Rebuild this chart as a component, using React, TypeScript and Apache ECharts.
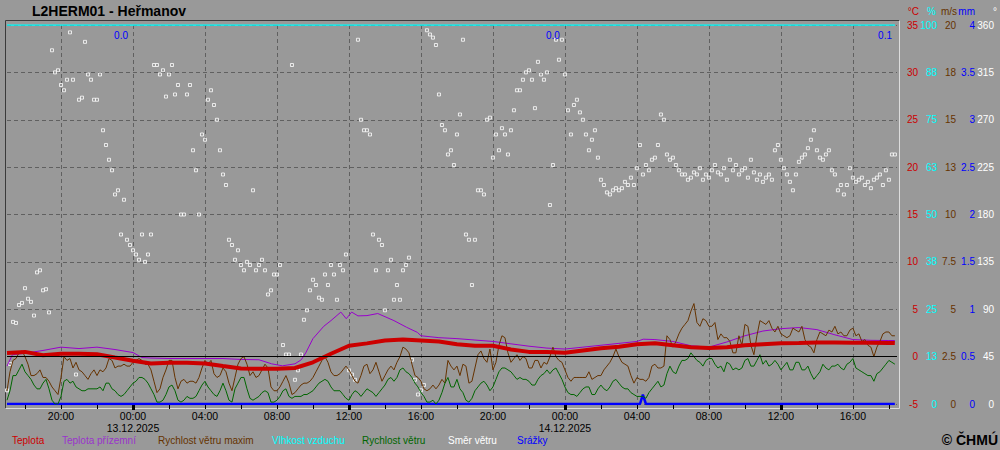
import React, { useEffect, useRef } from "react";
import * as echarts from "echarts";

// ---------- DATA ----------
// time unit: hours relative to 00:00 13.12.2025; 10-minute samples start at 17:00 12.12.2025
const START_HOUR = -7;
const STEP_HOURS = 1 / 6;

// Teplota (°C), [hour, value]
const airTemp: number[][] = [
  [-7, 0.37], [-6, 0.5], [-5, 0.15], [-4, 0.3], [-3, 0.3], [-2, 0.25], [-1, -0.1], [0, -0.44],
  [1, -0.72], [2, -0.65], [3, -0.65], [4, -0.72], [5, -1.0], [6, -1.25], [7, -1.29], [8, -1.29],
  [9, -1.2], [10, -0.6], [11, 0.3], [12, 1.15], [13, 1.4], [14, 1.7], [15, 1.8], [16, 1.7],
  [17, 1.6], [18, 1.3], [19, 1.15], [20, 1.15], [21, 0.75], [22, 0.5], [23, 0.5], [24, 0.4],
  [25, 0.65], [26, 0.88], [27, 1.05], [28, 1.3], [29, 1.4], [30, 1.2], [31, 1.0], [32, 0.9],
  [33, 1.0], [34, 1.2], [35, 1.3], [36, 1.4], [37, 1.43], [38, 1.48], [39, 1.5], [40, 1.47],
  [41, 1.47], [42, 1.45], [42.33, 1.43],
];

// Teplota přízemní (°C), [hour, value]
const groundTemp: number[][] = [
  [-7, -1.0], [-6.7, 0.2], [-6, 0.35], [-5, 0.65], [-4, 1.0], [-3, 0.85], [-2, 1.0], [-1, 0.75],
  [0, 0.43], [0.5, -0.1], [1, -0.15], [2, -0.2], [3, -0.2], [4, -0.2], [5, -0.2], [6, -0.3],
  [7, -0.33], [7.7, -0.76], [8.3, -0.97], [9, -0.76], [9.35, -0.33], [9.6, 0.4], [10, 1.9],
  [10.6, 3.2], [11, 3.8], [11.55, 4.7], [11.85, 4.0], [12.15, 4.7], [12.5, 4.3], [13, 4.33],
  [13.6, 4.55], [14.5, 3.8], [15.2, 3.1], [15.8, 2.56], [16, 2.2], [17, 2.0], [18, 1.9],
  [19, 1.75], [20, 1.6], [21, 1.35], [22, 1.1], [23, 0.9], [24, 0.8], [25, 1.0], [26, 1.2],
  [27, 1.4], [28, 1.6], [28.35, 1.84], [29, 1.8], [30, 1.6], [31, 1.15], [32, 1.0], [33, 1.55],
  [34, 2.2], [35, 2.7], [36, 2.95], [37, 3.07], [38, 2.85], [39, 2.3], [40, 1.8], [41, 1.72],
  [42, 1.7], [42.33, 1.7],
];

// Rychlost větru maxim (m/s), 10-min samples
const windGust: number[] = [
  0.7, 1.7, 2.3, 2.4, 2.7, 2.8, 2.5, 2.1, 1.5, 1.5, 1.6, 1.8, 1.4, 1.4, 1.2, 0.9, 0.7, 0.5, 1.4, 2.5,
  2.3, 2.4, 1.9, 2.2, 1.8, 1.7, 1.5, 1.3, 1.6, 1.8, 1.5, 1.8, 1.7, 1.9, 2.4, 2.3, 1.9, 2.0, 2.0, 2.1,
  2.0, 2.0, 2.2, 2.3, 2.4, 2.3, 2.1, 2.1, 1.8, 1.2, 0.6, 0.8, 1.4, 1.8, 2.3, 2.3, 1.4, 0.8, 1.2, 1.3,
  1.1, 1.2, 1.2, 1.1, 1.4, 1.9, 2.3, 2.1, 2.3, 1.6, 1.4, 1.5, 1.9, 1.7, 1.1,
  0.7, 1.4, 2.1, 2.4, 2.5, 2.1, 1.5, 1.7, 1.4, 1.5, 1.8, 2.1, 1.9, 0.9, 0.7, 0.7, 0.9, 1.2, 1.5, 1.1,
  0.5, 0.6, 0.8, 1.0, 1.1, 1.1, 1.2, 1.4, 1.7, 2.0, 2.3, 2.5, 2.2, 1.7, 1.5, 1.5, 1.6, 1.8, 2.0, 1.8,
  1.5, 1.2, 1.1, 1.5, 2.0, 2.1, 1.6, 1.8, 2.2, 1.7, 1.2, 1.5, 1.8, 2.0, 1.8, 2.2, 2.5, 3.0, 2.9, 2.7,
  2.1, 1.5, 1.4, 1.2, 0.8, 0.7, 0.8, 1.0, 0.8, 1.0, 1.3, 1.1, 2.3,
  2.0, 1.8, 2.0, 1.5, 2.1, 2.0, 1.1, 1.2, 1.9, 2.6, 2.8, 2.4, 2.2, 2.9, 1.8, 2.2, 3.1, 3.6, 3.5, 2.7,
  2.2, 2.4, 2.6, 2.3, 2.5, 2.4, 1.9, 1.9, 2.3, 2.3, 1.9, 2.2, 2.1, 2.5, 3.0, 2.5, 2.3, 2.2, 1.8, 1.4,
  1.2, 1.4, 1.4, 1.4, 1.4, 1.4, 1.7, 1.3, 1.4, 1.5, 1.5, 1.8, 2.0, 2.2, 2.5, 2.9, 2.5, 2.2, 2.1, 2.0,
  1.5, 1.1, 1.4, 1.3, 1.3, 1.2, 1.4, 2.0, 2.1, 1.9, 1.9, 2.0, 3.6, 3.4, 3.0,
  3.3, 3.7, 4.0, 4.2, 4.4, 4.9, 5.3, 4.3, 4.1, 4.5, 4.4, 4.1, 4.1, 4.3, 3.4, 3.7, 3.5, 3.5, 3.3, 2.7,
  2.7, 3.6, 3.1, 4.2, 4.1, 3.1, 2.6, 3.6, 4.4, 4.3, 4.2, 4.4, 4.0, 3.8, 4.1, 3.7, 3.6, 3.5, 3.6, 4.0,
  3.9, 3.8, 4.1, 3.4, 3.1, 3.0, 2.7, 3.4, 3.8, 3.7, 3.6, 3.9, 3.8, 4.1, 3.7, 3.8, 3.6, 3.6, 3.9, 4.0,
  3.6, 3.7, 3.3, 3.4, 3.1, 3.0, 2.5, 3.0, 3.3, 3.7, 3.8, 3.8, 3.6, 3.6,
];

// Rychlost větru (m/s), 10-min samples
const windSpeed: number[] = [
  0.2, 0.7, 1.5, 1.5, 1.8, 2.1, 1.7, 1.5, 1.3, 1.0, 0.8, 0.8, 1.1, 1.3, 0.8, 0.2, 0.0, 0.0, 0.4, 1.2,
  1.3, 1.1, 1.2, 0.9, 0.8, 0.7, 0.7, 0.8, 0.8, 0.8, 0.8, 0.9, 0.7, 1.1, 1.1, 0.8, 0.7, 0.5, 0.4, 0.5,
  0.7, 0.9, 1.1, 1.2, 1.4, 1.4, 1.3, 1.1, 0.8, 0.5, 0.1, 0.1, 0.2, 0.5, 0.9, 1.0, 0.7, 0.2, 0.1, 0.2,
  0.4, 0.3, 0.3, 0.4, 0.7, 1.0, 1.2, 0.9, 0.7, 0.5, 0.4, 0.7, 1.1, 0.7, 0.2,
  0.1, 0.8, 1.1, 1.4, 1.4, 0.8, 0.3, 0.2, 0.3, 0.4, 0.6, 0.7, 0.6, 0.1, 0.1, 0.2, 0.4, 0.7, 0.8, 0.4,
  0.3, 0.4, 0.4, 0.4, 0.5, 0.5, 0.6, 0.7, 0.9, 1.1, 1.2, 1.3, 1.2, 0.9, 0.7, 0.7, 0.7, 0.5, 0.3, 0.2,
  0.5, 0.7, 0.6, 0.4, 0.6, 0.8, 0.7, 0.6, 0.4, 0.6, 0.8, 1.0, 1.3, 1.4, 1.2, 1.4, 1.8, 1.9, 1.7, 1.6,
  1.4, 1.1, 0.9, 0.6, 0.4, 0.1, 0.1, 0.2, 0.0, 0.2, 0.6, 1.1, 1.4,
  0.9, 0.9, 1.3, 0.8, 0.6, 0.2, 0.1, 0.3, 0.7, 0.9, 1.1, 1.2, 1.0, 0.7, 0.9, 1.3, 1.7, 1.9, 1.9, 1.8,
  1.7, 1.5, 1.3, 1.4, 1.3, 1.3, 1.2, 1.0, 1.0, 1.3, 1.5, 1.6, 1.8, 1.6, 1.8, 1.9, 1.6, 1.3, 0.9, 0.6,
  0.5, 0.5, 0.4, 0.6, 0.8, 0.9, 0.9, 0.5, 0.5, 0.8, 1.0, 0.8, 0.7, 0.9, 1.2, 1.3, 1.1, 0.9, 0.8, 0.8,
  0.6, 0.5, 0.4, 0.4, 0.4, 0.3, 0.6, 0.8, 1.0, 1.2, 0.9, 1.0, 1.6, 2.0, 1.7,
  1.6, 2.0, 2.3, 2.3, 2.4, 2.7, 2.5, 2.3, 2.2, 2.0, 2.3, 2.4, 2.4, 2.1, 1.9, 2.0, 1.7, 2.2, 2.1, 1.8,
  1.9, 1.8, 1.9, 2.3, 2.4, 2.0, 2.0, 2.3, 2.6, 2.1, 2.3, 2.0, 2.1, 2.3, 2.1, 1.8, 2.0, 2.2, 1.8, 1.8,
  2.2, 2.2, 1.8, 1.8, 2.0, 1.6, 1.3, 1.5, 1.7, 2.1, 1.9, 1.8, 2.0, 2.0, 2.1, 1.9, 1.8, 2.1, 2.2, 2.4,
  1.9, 1.8, 1.7, 1.6, 1.5, 1.5, 1.2, 1.6, 1.7, 1.9, 2.1, 2.3, 2.2, 2.1,
];

// Směr větru (°), 10-min samples
const windDir: number[] = [
  13, 38, 78, 77, 94, 96, 110, 100, 97, 84,
  125, 127, 108, 109, 87, 336, 315, 317, 303, 298,
  308, 353, 308, 28, 289, 291, 344, 313, 308, 289,
  289, 313, 260, 246, 232, 222, 199, 203, 161, 194,
  156, 151, 146, 142, 137, 161, 135, 142, 161, 322,
  322, 313, 317, 292, 313, 322, 294, 303, 180, 180,
  294, 303, 241, 222, 180, 256, 251, 289, 298, 284,
  270, 241, 218, 208, 156, 151, 137, 146, 132, 127,
  135, 132, 203, 127, 132, 137, 127, 104, 108, 123,
  123, 132, 56, 47, 47, 322, 23, 32, 47, 80,
  89, 108, 118, 113, 101, 99, 123, 113, 132, 123,
  99, 132, 127, 142, 32, 28, 23, 346, 270, 260,
  260, 256, 161, 127, 156, 151, 89, 127, 137, 99,
  113, 99, 127, 132, 139, 42, 23, 9, 13, 18,
  355, 351, 348, 341, 294, 265, 260, 237, 241, 227,
  256, 275, 346, 161, 156, 113, 156, 203, 203, 199,
  270, 272, 234, 256, 241, 262, 256, 237, 260, 279,
  298, 298, 308, 315, 317, 308, 281, 325, 313, 308,
  315, 189, 227, 346, 327, 346, 313, 279, 256, 284,
  289, 277, 270, 256, 241, 251, 260, 234, 213, 208,
  201, 199, 203, 205, 203, 205, 211, 208, 215, 208,
  224, 246, 218, 227, 222, 232, 234, 246, 275, 270,
  237, 232, 234, 227, 222, 218, 218, 213, 215, 220,
  218, 224, 213, 218, 215, 222, 227, 220, 218, 224,
  213, 232, 222, 227, 218, 222, 224, 215, 232, 220,
  213, 218, 211, 215, 218, 213, 241, 246, 232, 224,
  218, 211, 203, 218, 230, 234, 237, 243, 251, 260,
  241, 234, 232, 237, 241, 222, 218, 203, 208, 199,
  208, 224, 215, 211, 213, 215, 208, 211, 205, 213,
  215, 218, 208, 222, 213, 237, 237,
];

// Vlhkost vzduchu (%), [hour, value]
const humidity: number[][] = [[-7, 100], [42.33, 100]];

// Srážky (mm), [hour, value]
const precipitation: number[][] = [[-7, 0], [28.17, 0], [28.33, 0.1], [28.5, 0], [42.33, 0]];

// axis ticks
const tempTicks = { min: -5, max: 35, interval: 5 };
const humTicks = { min: 0, max: 100, interval: 12.5 };
const windTicks = { min: 0, max: 20, interval: 2.5 };
const precTicks = { min: 0, max: 4, interval: 0.5 };
const dirTicks = { min: 0, max: 360, interval: 45 };
const unitNames = ["°C", "%", "m/s", "mm", "°"];
const X_MIN = -7;
const X_MAX = 42.45;
const labelHours = [-4, 0, 4, 8, 12, 16, 20, 24, 28, 32, 36, 40];
const minorTickHours = [-6, -4, -2, 0, 2, 4, 6, 8, 10, 12, 14, 16, 18, 20, 22, 24, 26, 28, 30, 32, 34, 36, 38, 40, 42];
const majorTickHours = [0, 12, 24, 36];
const dayEnds = [0, 24, 48];

// ---------- CHART ----------
const FONT = "'Liberation Sans', Arial, Helvetica, sans-serif";
const C_RED = "#cc0000";
const C_PURPLE = "#9900cc";
const C_BROWN = "#663300";
const C_CYAN = "#00ffff";
const C_GREEN = "#006600";
const C_WHITE = "#ffffff";
const C_BLUE = "#0000ff";

function fmtTime(h: number): string {
  const hh = ((Math.round(h) % 24) + 24) % 24;
  const s = String(hh).padStart(2, "0") + ":00";
  if (hh === 0) {
    const d = new Date(Date.UTC(2025, 11, 13) + h * 3600e3);
    return s + "\n" + d.getUTCDate() + "." + (d.getUTCMonth() + 1) + "." + d.getUTCFullYear();
  }
  return s;
}

function rightAxis(
  ticks: { min: number; max: number; interval: number },
  color: string,
  offset: number,
  formatter: (v: number) => string
) {
  return {
    type: "value",
    position: "right",
    offset,
    min: ticks.min,
    max: ticks.max,
    interval: ticks.interval,
    axisLine: { show: false },
    axisTick: { show: false },
    splitLine: { show: false },
    axisLabel: { color, fontSize: 10, fontFamily: FONT, align: "right", margin: 0, formatter },
  };
}

export default function App() {
  const ref = useRef<HTMLDivElement>(null);

  useEffect(() => {
    if (!ref.current) return;
    const chart = echarts.init(ref.current, null, { renderer: "svg" });

    const t10 = (i: number) => +(START_HOUR + i * STEP_HOURS).toFixed(4);
    const gustData = windGust.map((v, i) => [t10(i), v]);
    const speedData = windSpeed.map((v, i) => [t10(i), v]);
    const dirData = windDir.map((v, i) => [t10(i), v]);

    const dayStarts = [-Infinity, 0, 24];
    const totals = dayEnds.map((end, k) =>
      precipitation.filter((p) => p[0] >= dayStarts[k] && p[0] < end).reduce((s, p) => s + p[1], 0)
    );

    const legendDefs: [string, string, number][] = [
      ["Teplota", C_RED, 12],
      ["Teplota přízemní", "#9933cc", 62],
      ["Rychlost větru maxim", C_BROWN, 158],
      ["Vlhkost vzduchu", C_CYAN, 272],
      ["Rychlost větru", C_GREEN, 362],
      ["Směr větru", C_WHITE, 447],
      ["Srážky", C_BLUE, 517],
    ];

    const unitColors = [C_RED, C_CYAN, C_BROWN, C_BLUE, C_WHITE];
    const unitRight = [919, 936, 957, 975, 997];

    const xBase = { type: "value", min: X_MIN, max: X_MAX, position: "bottom", gridIndex: 0 };

    chart.setOption({
      animation: false,
      backgroundColor: "#999999",
      title: {
        text: "L2HERM01 - Heřmanov",
        left: 32,
        top: 4,
        padding: 0,
        textStyle: { fontFamily: FONT, fontSize: 14, fontWeight: "bold", color: "#000" },
      },
      legend: legendDefs.map(([name, color, x]) => ({
        data: [name],
        left: x - 5,
        top: 435,
        padding: 0,
        itemWidth: 0,
        itemHeight: 0,
        itemGap: 0,
        icon: "rect",
        itemStyle: { opacity: 0 },
        lineStyle: { opacity: 0 },
        selectedMode: false,
        textStyle: { color, fontSize: 10, fontFamily: FONT },
      })),
      grid: { left: 7, right: 103, top: 25, bottom: 46, show: false },
      xAxis: [
        {
          ...xBase,
          axisLine: { show: false },
          axisTick: { show: false, customValues: labelHours },
          splitLine: { show: true, lineStyle: { color: "#606060", width: 1, type: [4, 3] } },
          axisLabel: {
            customValues: labelHours,
            formatter: (v: number) => fmtTime(v),
            color: "#000",
            fontSize: 10.5,
            lineHeight: 12,
            margin: 6,
            fontFamily: FONT,
          },
        },
        {
          ...xBase,
          axisLine: { show: false },
          axisTick: { show: true, customValues: minorTickHours, length: 5, lineStyle: { color: "#000", width: 1 } },
          axisLabel: { show: false },
          splitLine: { show: false },
        },
        {
          ...xBase,
          axisLine: { show: false },
          axisTick: { show: true, customValues: majorTickHours, length: 6, lineStyle: { color: "#000", width: 3 } },
          axisLabel: { show: false },
          splitLine: { show: false },
        },
      ],
      yAxis: [
        {
          ...rightAxis(tempTicks, C_RED, 21, (v) => String(v)),
          splitLine: { show: true, lineStyle: { color: "#606060", width: 1, type: [4, 3] } },
        },
        rightAxis(humTicks, C_CYAN, 40, (v) => String(Math.round(v))),
        rightAxis(windTicks, C_BROWN, 59, (v) => String(v >= 10 ? Math.round(v) : v)),
        rightAxis(precTicks, C_BLUE, 78, (v) => String(v)),
        rightAxis(dirTicks, C_WHITE, 97, (v) => String(v)),
      ],
      series: [
        {
          name: "Vlhkost vzduchu",
          type: "line",
          yAxisIndex: 1,
          data: humidity,
          symbol: "none",
          lineStyle: { color: C_CYAN, width: 1.5 },
          itemStyle: { color: C_CYAN },
        },
        {
          name: "Srážky",
          type: "line",
          yAxisIndex: 3,
          data: precipitation,
          symbol: "none",
          lineStyle: { color: C_BLUE, width: 2.5 },
          itemStyle: { color: C_BLUE },
          markPoint: {
            symbol: "circle",
            symbolSize: 0,
            silent: true,
            data: totals.map((v, k) => ({
              coord: [Math.min(dayEnds[k], X_MAX), precTicks.max],
              value: v.toFixed(1),
            })),
            label: {
              show: true,
              position: "left",
              distance: 5,
              offset: [0, 10],
              color: C_BLUE,
              fontSize: 10,
              fontFamily: FONT,
              formatter: (p: any) => p.value,
            },
          },
        },
        {
          name: "Teplota přízemní",
          type: "line",
          yAxisIndex: 0,
          data: groundTemp,
          symbol: "none",
          lineStyle: { color: C_PURPLE, width: 1 },
          itemStyle: { color: C_PURPLE },
          markLine: {
            silent: true,
            symbol: ["none", "none"],
            label: { show: false },
            lineStyle: { color: "#000", width: 1, type: "solid" },
            data: [{ yAxis: 0 }],
          },
        },
        {
          name: "Rychlost větru maxim",
          type: "line",
          yAxisIndex: 2,
          data: gustData,
          symbol: "none",
          lineStyle: { color: C_BROWN, width: 1 },
          itemStyle: { color: C_BROWN },
        },
        {
          name: "Rychlost větru",
          type: "line",
          yAxisIndex: 2,
          data: speedData,
          symbol: "none",
          lineStyle: { color: C_GREEN, width: 1 },
          itemStyle: { color: C_GREEN },
        },
        {
          name: "Teplota",
          type: "line",
          yAxisIndex: 0,
          data: airTemp,
          symbol: "none",
          lineStyle: { color: C_RED, width: 4 },
          itemStyle: { color: C_RED },
        },
        {
          name: "Směr větru",
          type: "scatter",
          yAxisIndex: 4,
          data: dirData,
          symbol: "rect",
          symbolSize: 3,
          itemStyle: { color: "#999999", borderColor: C_WHITE, borderWidth: 1 },
        },
      ],
      graphic: [
        {
          type: "polyline",
          silent: true,
          shape: { points: [[5.5, 408.5], [5.5, 20.5], [899.5, 20.5]] },
          style: { stroke: "#3a3a3a", lineWidth: 1 },
        },
        {
          type: "polyline",
          silent: true,
          shape: { points: [[899.5, 20.5], [899.5, 408.5], [5.5, 408.5]] },
          style: { stroke: "#dcdcdc", lineWidth: 1 },
        },
        ...unitNames.map((u, k) => ({
          type: "text",
          x: unitRight[k],
          y: 11,
          silent: true,
          style: {
            text: u,
            fill: unitColors[k],
            font: "10px " + FONT,
            align: "right",
            verticalAlign: "middle",
          },
        })),
        {
          type: "text",
          x: 998,
          y: 440,
          silent: true,
          style: {
            text: "© ČHMÚ",
            fill: "#000",
            font: "bold 14px " + FONT,
            align: "right",
            verticalAlign: "middle",
          },
        },
      ],
    });

    return () => chart.dispose();
  }, []);

  return (
    <div
      ref={ref}
      style={{ position: "fixed", left: 0, top: 0, width: 1000, height: 450 }}
    />
  );
}
